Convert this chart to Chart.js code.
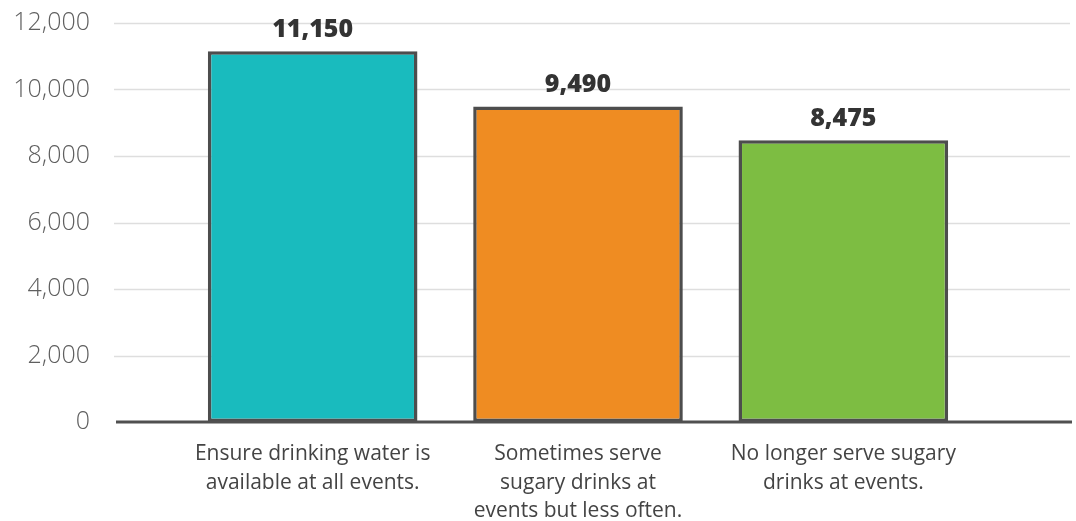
<!DOCTYPE html>
<html>
<head>
<meta charset="utf-8">
<script src="https://cdn.jsdelivr.net/npm/chart.js@4"></script>
<style>
  html, body { margin: 0; padding: 0; background: #fff; overflow: hidden; }
  canvas { display: block; }
</style>
</head>
<body>
<canvas id="chart" width="1076" height="521"></canvas>
<script>
// bar chart – event drink policies
const categories = [
    ['Ensure drinking water is', 'available at all events.'],
    ['Sometimes serve', 'sugary drinks at', 'events but less often.'],
    ['No longer serve sugary', 'drinks at events.']
];
const values = [11150, 9490, 8475];
const barColors = ['#19bbbe', '#ef8c22', '#7dbd42'];
const yTicks = [0, 2000, 4000, 6000, 8000, 10000, 12000];

const GRID_LEFT = 114;
const GRID_RIGHT = 1070;

// wide gridlines + baseline, drawn from the y scale
const gridPlugin = {
    id: 'wideGrid',
    beforeDatasetsDraw(chart) {
        const y = chart.scales.y;
        const ctx = chart.ctx;
        ctx.save();
        ctx.strokeStyle = '#dedede';
        ctx.lineWidth = 1.5;
        y.ticks.forEach(t => {
            if (t.value === 0) return;
            const py = Math.round(y.getPixelForValue(t.value)) + 0.5;
            ctx.beginPath();
            ctx.moveTo(GRID_LEFT, py);
            ctx.lineTo(GRID_RIGHT, py);
            ctx.stroke();
        });
        ctx.restore();
    },
    afterDatasetsDraw(chart) {
        const y = chart.scales.y;
        const ctx = chart.ctx;
        ctx.save();
        ctx.strokeStyle = '#505050';
        ctx.lineWidth = 3;
        const py = y.getPixelForValue(0);
        ctx.beginPath();
        ctx.moveTo(GRID_LEFT + 2, py);
        ctx.lineTo(GRID_RIGHT + 2, py);
        ctx.stroke();

        // value labels
        ctx.fillStyle = '#333333';
        ctx.font = '800 25px "Open Sans"';
        ctx.textAlign = 'center';
        ctx.textBaseline = 'alphabetic';
        chart.getDatasetMeta(0).data.forEach((bar, i) => {
            ctx.fillText(values[i].toLocaleString('en-US'), bar.x, bar.y - 14);
        });
        ctx.restore();
    }
};

new Chart(document.getElementById('chart'), {
    type: 'bar',
    data: {
        labels: categories,
        datasets: [{
            data: values,
            backgroundColor: barColors,
            borderColor: '#4d4d4d',
            borderWidth: 3.5,
            borderSkipped: false,
            categoryPercentage: 1,
            barPercentage: 0.79
        }]
    },
    options: {
        responsive: false,
        animation: false,
        layout: { padding: { top: 23, right: 100, left: 0, bottom: 0 } },
        plugins: { legend: { display: false }, tooltip: { enabled: false } },
        scales: {
            y: {
                min: 0,
                max: 12000,
                afterBuildTicks: s => { s.ticks = yTicks.map(v => ({ value: v })); },
                afterFit: s => { s.width = 180; },
                grid: { display: false, drawTicks: true, tickLength: 84 },
                border: { display: false },
                ticks: {
                    padding: 6,
                    color: '#5f5f5f',
                    font: { family: 'Open Sans', size: 25, weight: 300 },
                    callback: v => v.toLocaleString('en-US')
                }
            },
            x: {
                afterFit: s => { s.height = 99; },
                grid: { display: false, drawTicks: false },
                border: { display: false },
                ticks: {
                    padding: 18,
                    color: '#444444',
                    maxRotation: 0,
                    autoSkip: false,
                    font: { family: 'Open Sans', size: 21, weight: 400, lineHeight: 1.357 }
                }
            }
        }
    },
    plugins: [gridPlugin]
});
</script>
</body>
</html>
